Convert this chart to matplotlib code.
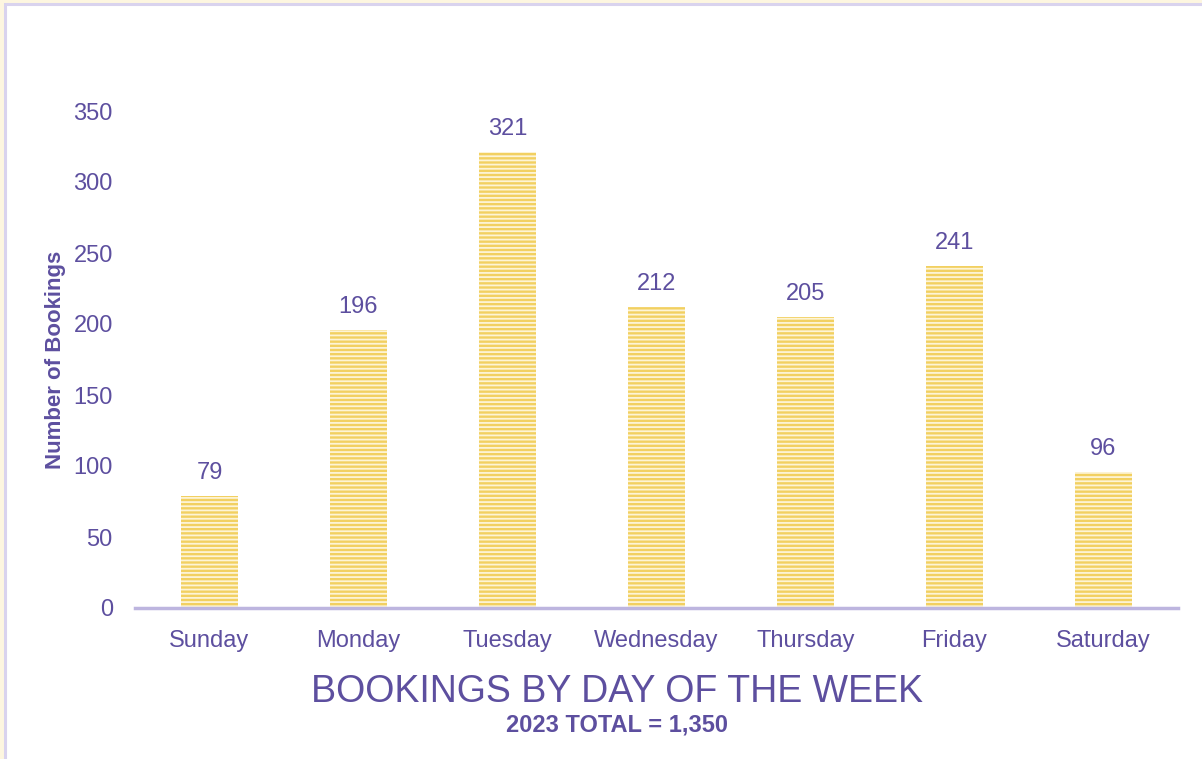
import matplotlib
matplotlib.use("Agg")
import matplotlib.pyplot as plt
from matplotlib.patches import Rectangle

days = ["Sunday", "Monday", "Tuesday", "Wednesday", "Thursday", "Friday", "Saturday"]
bookings = [79, 196, 321, 212, 205, 241, 96]
y_ticks = [0, 50, 100, 150, 200, 250, 300, 350]

purple = "#5D4F9F"
axis_col = "#BDB5DF"
yellow = "#F2D061"
stripe = "#FDF4D6"

plt.rcParams["font.family"] = ["Liberation Sans", "DejaVu Sans"]
plt.rcParams["hatch.linewidth"] = 1.3

fig = plt.figure(figsize=(12.02, 7.59), dpi=100)
fig.patch.set_facecolor("#FDF6E0")

# white panel with lavender border on left/top
panel = Rectangle((5 / 1202, -0.01), 1.1, 1 - 4 / 759 + 0.01, transform=fig.transFigure,
                  facecolor="white", edgecolor="#D9D3EE", linewidth=2.2, zorder=-5)
fig.patches.append(panel)

ax = fig.add_axes([135 / 1202, 151 / 759, (1178 - 135) / 1202, (608 - 111) / 759])
ax.set_facecolor("none")

x = range(len(days))
ax.bar(x, bookings, width=0.38, color=yellow, linewidth=0, zorder=2)
ax.bar(x, bookings, width=0.38, facecolor="none", edgecolor=stripe, hatch="----",
       linewidth=0, zorder=3)

for i, v in zip(x, bookings):
    ax.annotate(str(v), (i, v), xytext=(0, 8.5), textcoords="offset points",
                ha="center", va="bottom", fontsize=17, color=purple)

ax.set_xlim(-0.5, len(days) - 0.5)
ax.set_ylim(0, 350)
ax.set_yticks(y_ticks)
ax.set_xticks(list(x))
ax.set_xticklabels(days)
ax.tick_params(axis="both", length=0, labelsize=17, labelcolor=purple)
ax.tick_params(axis="y", pad=16)
ax.tick_params(axis="x", pad=15.5)

for s in ["top", "right", "left"]:
    ax.spines[s].set_visible(False)
ax.spines["bottom"].set_color(axis_col)
ax.spines["bottom"].set_linewidth(2.5)
ax.spines["bottom"].set_zorder(4)

ax.set_ylabel("Number of Bookings", fontsize=16, fontweight="bold", color=purple)
ax.yaxis.set_label_coords(-0.066, 0.5)

fig.text(617 / 1202, 1 - 692 / 759, "BOOKINGS BY DAY OF THE WEEK", ha="center", va="center",
         fontsize=27, color=purple)
fig.text(617 / 1202, 1 - 725 / 759, "2023 TOTAL = 1,350", ha="center", va="center",
         fontsize=17, fontweight="bold", color=purple)

fig.savefig("out.png", dpi=100, facecolor=fig.get_facecolor())
